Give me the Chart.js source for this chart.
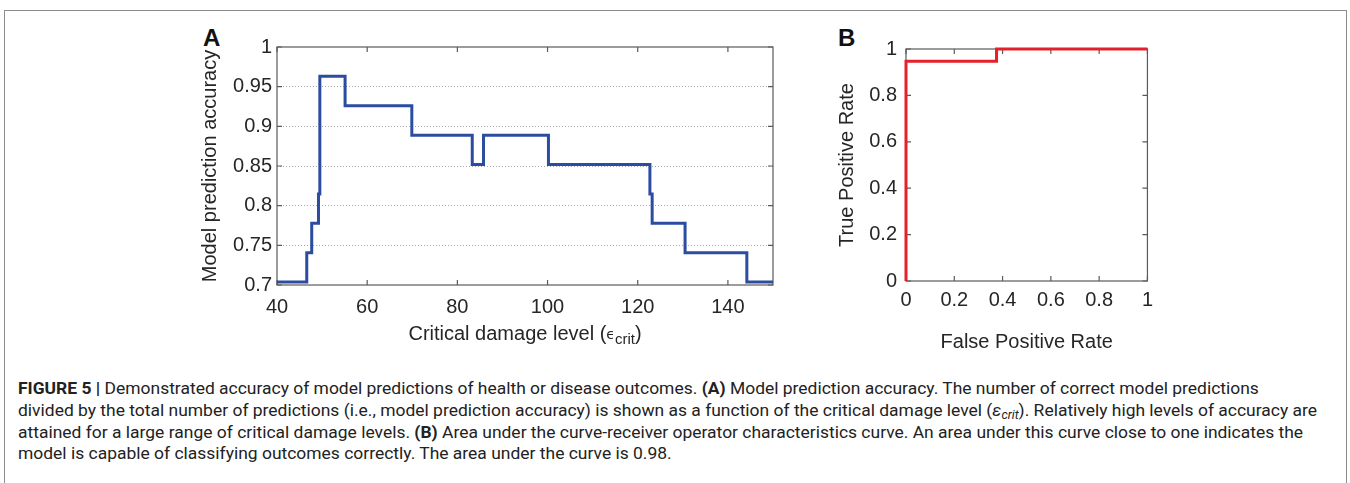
<!DOCTYPE html>
<html>
<head>
<meta charset="utf-8">
<script src="https://cdn.jsdelivr.net/npm/chart.js@4.4.1/dist/chart.umd.min.js"></script>
<style>
  body { margin: 0; background: #fff; width: 1350px; height: 483px; overflow: hidden; position: relative; }
  #frame { position: absolute; left: 4px; top: 10px; width: 1341px; height: 480px; border: 1.5px solid #8c8c8c; border-bottom: none; }
  .panel { position: absolute; }
  #wrapA { left: 190px; top: 30px; width: 590px; height: 325px; }
  #wrapB { left: 825px; top: 28px; width: 335px; height: 328px; }
  .tag { position: absolute; font: bold 24px "Liberation Sans", Arial, sans-serif; color: #111; line-height: 24px; }
  .cap { position: absolute; left: 18px; white-space: nowrap; font: 17px Roboto, sans-serif; color: #222; line-height: 22px; transform-origin: left center; }
  .cap sub { font-size: 12px; vertical-align: -3px; line-height: 0; }
</style>
</head>
<body>
<div id="frame"></div>
<div class="tag" style="left:203px; top:26px;">A</div>
<div class="tag" style="left:838px; top:26px;">B</div>
<div class="panel" id="wrapA"><canvas id="chartA"></canvas></div>
<div class="panel" id="wrapB"><canvas id="chartB"></canvas></div>

<div class="cap" style="top:377px;"><b>FIGURE 5 |</b> Demonstrated accuracy of model predictions of health or disease outcomes. <b>(A)</b> Model prediction accuracy. The number of correct model predictions</div>
<div class="cap" style="top:399px;">divided by the total number of predictions (i.e., model prediction accuracy) is shown as a function of the critical damage level (<i>ε<sub>crit</sub></i>). Relatively high levels of accuracy are</div>
<div class="cap" style="top:421px;">attained for a large range of critical damage levels. <b>(B)</b> Area under the curve-receiver operator characteristics curve. An area under this curve close to one indicates the</div>
<div class="cap" style="top:442px;">model is capable of classifying outcomes correctly. The area under the curve is 0.98.</div>

<script>
// Panel A: accuracy steps, each value holds from its x until the next x
const damageLevel = [40, 46.6, 47.7, 49.2, 49.5, 55.1, 69.9, 83.3, 85.8, 100.2, 122.7, 123.2, 130.5, 144.2, 150];
const accuracy = [0.7037, 0.7407, 0.7778, 0.8148, 0.963, 0.9259, 0.8889, 0.8519, 0.8889, 0.8519, 0.8148, 0.7778, 0.7407, 0.7037, 0.7037];
const damageTicks = [40, 60, 80, 100, 120, 140];
const accuracyTicks = [0.7, 0.75, 0.8, 0.85, 0.9, 0.95, 1];
const accuracyLabels = ['0.7', '0.75', '0.8', '0.85', '0.9', '0.95', '1'];

// Panel B: ROC curve
const falsePos = [0, 0, 0.375, 1];
const truePos = [0, 0.947, 1, 1];
const rateTicks = [0, 0.2, 0.4, 0.6, 0.8, 1];
const rateLabels = ['0', '0.2', '0.4', '0.6', '0.8', '1'];

const textColor = '#262626';
const tickFont = { family: '"Liberation Sans", Arial, sans-serif', size: 20 };

// matlab style box with inward ticks on all four sides
const boxPlugin = {
  id: 'box',
  beforeDatasetsDraw(chart) {
    const {ctx, chartArea: a, scales: {x, y}} = chart;
    ctx.save();
    ctx.strokeStyle = '#5a5a5a';
    ctx.lineWidth = 1.2;
    ctx.strokeRect(a.left, a.top, a.width, a.height);
    ctx.beginPath();
    x.ticks.forEach(t => {
      const px = x.getPixelForValue(t.value);
      ctx.moveTo(px, a.bottom); ctx.lineTo(px, a.bottom - 5);
      ctx.moveTo(px, a.top); ctx.lineTo(px, a.top + 5);
    });
    y.ticks.forEach(t => {
      const py = y.getPixelForValue(t.value);
      ctx.moveTo(a.left, py); ctx.lineTo(a.left + 5, py);
      ctx.moveTo(a.right, py); ctx.lineTo(a.right - 5, py);
    });
    ctx.stroke();
    ctx.restore();
  }
};

// x title of panel A, needs a subscript so it is drawn by hand
const damageTitle = {
  id: 'damageTitle',
  afterDraw(chart) {
    const {ctx, chartArea: a} = chart;
    const parts = [
      { t: 'Critical damage level (', f: '20px "Liberation Sans", Arial, sans-serif', dy: 0 },
      { t: 'ϵ', f: '14px "DejaVu Sans", sans-serif', dy: 1 },
      { t: 'crit', f: '15px "Liberation Sans", Arial, sans-serif', dy: 6 },
      { t: ')', f: '20px "Liberation Sans", Arial, sans-serif', dy: 0 },
    ];
    ctx.save();
    ctx.fillStyle = textColor;
    ctx.textBaseline = 'middle';
    let total = 0;
    parts.forEach(p => { ctx.font = p.f; p.w = ctx.measureText(p.t).width; total += p.w; });
    let x = (a.left + a.right) / 2 - total / 2;
    const y = a.bottom + 49;
    parts.forEach(p => { ctx.font = p.f; ctx.fillText(p.t, x, y + p.dy); x += p.w; });
    ctx.restore();
  }
};

let chartA = new Chart(document.getElementById('chartA'), {
  type: 'line',
  data: {
    datasets: [{
      data: damageLevel.map((v, i) => ({ x: v, y: accuracy[i] })),
      stepped: true,
      borderColor: '#2b4ca0',
      borderWidth: 3,
      pointRadius: 0,
      fill: false,
      clip: false,
    }]
  },
  options: {
    responsive: true,
    maintainAspectRatio: false,
    animation: false,
    layout: { padding: { top: 12, right: 7, left: 0, bottom: 0 } },
    plugins: { legend: { display: false }, tooltip: { enabled: false } },
    scales: {
      x: {
        type: 'linear', min: 40, max: 150,
        afterBuildTicks: s => { s.ticks = damageTicks.map(v => ({ value: v })); },
        afterFit: s => { s.height = 70; },
        grid: { display: false, drawTicks: false },
        border: { display: false },
        ticks: { padding: 10, color: textColor, font: tickFont, maxRotation: 0, autoSkip: false, callback: v => String(v) },
      },
      y: {
        type: 'linear', min: 0.7, max: 1,
        afterBuildTicks: s => { s.ticks = accuracyTicks.map(v => ({ value: v })); },
        afterFit: s => { s.width = 87; },
        grid: {
          drawTicks: false,
          lineWidth: 1,
          color: c => (c.tick && c.tick.value > 0.71 && c.tick.value < 0.99) ? '#a8a8a8' : 'rgba(0,0,0,0)',
        },
        border: { display: false, dash: [1, 2] },
        ticks: { padding: 5, color: textColor, font: tickFont, autoSkip: false, callback: (v, i) => accuracyLabels[i] },
        title: { display: true, text: 'Model prediction accuracy', color: textColor, font: tickFont, padding: { top: 8 } },
      }
    }
  },
  plugins: [boxPlugin, damageTitle]
});

let chartB = new Chart(document.getElementById('chartB'), {
  type: 'line',
  data: {
    datasets: [{
      data: falsePos.map((v, i) => ({ x: v, y: truePos[i] })),
      stepped: true,
      borderColor: '#e3202b',
      borderWidth: 3,
      pointRadius: 0,
      fill: false,
      clip: false,
    }]
  },
  options: {
    responsive: true,
    maintainAspectRatio: false,
    animation: false,
    layout: { padding: { top: 12, right: 10, left: 0, bottom: 0 } },
    plugins: { legend: { display: false }, tooltip: { enabled: false } },
    scales: {
      x: {
        type: 'linear', min: 0, max: 1,
        afterBuildTicks: s => { s.ticks = rateTicks.map(v => ({ value: v })); },
        afterFit: s => { s.height = 75; },
        grid: { display: false, drawTicks: false },
        border: { display: false },
        ticks: { padding: 7, color: textColor, font: tickFont, maxRotation: 0, autoSkip: false, callback: (v, i) => rateLabels[i] },
        title: { display: true, text: 'False Positive Rate', color: textColor, font: tickFont, padding: { bottom: 2 } },
      },
      y: {
        type: 'linear', min: 0, max: 1,
        afterBuildTicks: s => { s.ticks = rateTicks.map(v => ({ value: v })); },
        afterFit: s => { s.width = 81; },
        grid: { display: false, drawTicks: false },
        border: { display: false },
        ticks: { padding: 9, color: textColor, font: tickFont, autoSkip: false, callback: (v, i) => rateLabels[i] },
        title: { display: true, text: 'True Positive Rate', color: textColor, font: tickFont, padding: { top: 10 } },
      }
    }
  },
  plugins: [boxPlugin]
});

// squeeze caption lines so that the long line spans the same width as the figure text
const caps = document.querySelectorAll('.cap');
const fit = 1299 / caps[1].getBoundingClientRect().width;
caps.forEach(c => { c.style.transform = 'scaleX(' + fit + ')'; });
</script>
</body>
</html>
